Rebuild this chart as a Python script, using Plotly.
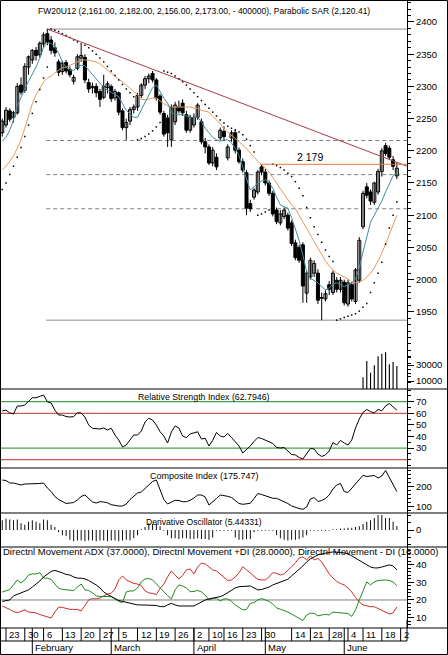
import plotly.graph_objects as go

W, H = 448, 655

# ---------------- data (trading-day index, 0 = 23 Jan 2012) ----------------
days = list(range(-1, 105))
opens = [2228,2240,2262,2252,2259,2302,2294,2330,2341,2356,2349,2366,2382,2372,2360,2338,2323,2337,2326,2308,
         2328,2344,2345,2306,2298,2300,2292,2283,2298,2300,2282,2290,2262,2236,2246,2264,2268,2286,2302,2312,
         2320,2310,2285,2258,2251,2217,2245,2268,2274,2256,2232,2240,2252,2245,2214,2206,2181,2190,2220,2230,
         2189,2220,2228,2201,2183,2166,2118,2128,2136,2175,2167,2150,2134,2108,2088,2098,2100,2088,2057,2050,
         2054,1979,2004,2010,2010,1971,1970,1992,1980,1999,1985,1996,1962,1992,1966,1999,2082,2144,2136,2120,
         2136,2168,2208,2204,2186,2161]
highs = [2250,2268,2266,2262,2305,2314,2336,2348,2358,2361,2370,2384,2389,2378,2368,2342,2340,2341,2331,2318,
         2350,2364,2350,2312,2306,2305,2296,2318,2308,2303,2296,2292,2266,2250,2268,2272,2290,2305,2316,2320,
         2324,2313,2288,2262,2256,2272,2276,2278,2280,2262,2256,2258,2274,2250,2220,2210,2206,2196,2236,2238,
         2210,2232,2234,2205,2188,2170,2124,2142,2170,2179,2172,2154,2138,2112,2108,2112,2104,2092,2062,2054,
         2058,2014,2034,2030,2016,1980,1984,1998,2014,2004,2004,2000,2000,1996,2018,2066,2138,2150,2140,2152,
         2172,2204,2212,2208,2192,2182]
lows = [2222,2236,2245,2244,2256,2287,2290,2318,2335,2340,2345,2360,2364,2350,2346,2316,2318,2320,2314,2303,
        2325,2338,2305,2290,2289,2283,2268,2280,2289,2276,2278,2255,2232,2217,2240,2258,2262,2282,2296,2305,
        2306,2278,2256,2222,2206,2206,2240,2258,2254,2228,2228,2236,2248,2210,2196,2178,2176,2170,2216,2215,
        2185,2214,2196,2180,2166,2100,2105,2124,2132,2162,2146,2130,2098,2086,2084,2094,2076,2052,2030,2026,
        1964,1964,2000,2004,1962,1937,1966,1976,1976,1980,1980,1960,1958,1966,1962,1995,2078,2126,2116,2116,
        2132,2160,2192,2186,2170,2156]
closes = [2246,2263,2249,2259,2300,2291,2331,2346,2356,2348,2367,2380,2369,2356,2352,2322,2336,2324,2318,2314,
          2346,2348,2310,2296,2300,2290,2280,2300,2304,2281,2292,2260,2236,2244,2264,2268,2286,2302,2312,2316,
          2310,2282,2260,2226,2228,2268,2271,2262,2259,2232,2252,2252,2271,2214,2206,2181,2201,2175,2232,2222,
          2206,2228,2201,2183,2170,2111,2110,2139,2167,2167,2150,2134,2102,2090,2102,2108,2080,2056,2034,2030,
          1990,2010,2030,2025,1968,1972,1978,1985,2010,1985,1999,1964,1995,1970,2015,2061,2134,2131,2122,2150,
          2168,2200,2196,2190,2176,2173]
ma_fast = [2215,2221,2232,2248,2270,2284,2296,2308,2319,2330,2344,2361,2367,2367,2361,2352,2338,2330,2325,2325,
           2330,2333,2332,2325,2319,2311,2305,2299,2294,2291,2288,2284,2273,2263,2257,2252,2252,2263,2276,2287,
           2298,2302,2291,2282,2274,2260,2256,2256,2256,2254,2252,2252,2252,2245,2235,2228,2221,2217,2215,2217,
           2217,2212,2204,2193,2175,2156,2139,2144,2150,2153,2155,2150,2142,2128,2116,2113,2111,2096,2077,2061,
           2038,2012,2002,1998,1995,1989,1984,1987,1993,1995,1992,1989,1992,1995,2001,2018,2043,2065,2089,2100,
           2111,2122,2136,2150,2161,2166]
ma_slow = [2170,2176,2184,2192,2204,2217,2235,2254,2273,2287,2298,2307,2313,2316,2321,2325,2329,2330,2333,2336,
           2339,2341,2341,2341,2339,2338,2335,2330,2325,2321,2316,2311,2307,2302,2296,2291,2287,2280,2279,2280,
           2282,2282,2277,2273,2270,2268,2268,2268,2268,2268,2268,2266,2266,2263,2262,2260,2254,2248,2242,2234,
           2229,2225,2220,2215,2209,2203,2196,2190,2184,2179,2173,2167,2159,2150,2141,2133,2125,2116,2110,2100,
           2089,2079,2068,2058,2049,2038,2029,2021,2015,2010,2007,2004,2001,1996,1995,1996,1999,2004,2010,2018,
           2029,2041,2055,2071,2086,2100]
sar = [2140,2150,2163,2176,2190,2205,2222,2240,2258,2276,2295,2313,2330,2389,2387,2385,2382,2379,2376,2372,
       2369,2366,2364,2360,2355,2350,2344,2338,2331,2324,2317,2310,2303,2296,2290,2284,2217,2219,2222,2226,
       2231,2237,2244,2324,2322,2320,2316,2312,2307,2302,2296,2290,2284,2278,2272,2266,2260,2254,2248,2243,
       2238,2235,2232,2229,2225,2218,2208,2198,2100,2102,2105,2108,2179,2177,2174,2170,2165,2160,2152,2142,
       2130,2112,2096,2082,2070,2058,2046,2036,2028,1937,1939,1941,1943,1945,1947,1951,1957,1963,1980,1995,
       2010,2027,2055,2080,2100,2120.41]
vol_days = [95, 96, 97, 98, 99, 100, 101, 102, 103, 104]
volume = [14600, 35000, 20500, 29600, 41000, 44000, 46000, 30900, 33700, 28700]

rsi = [62.0,62.8,60.3,59.4,66.3,66.3,67.2,70.6,73.4,73.4,74.9,75.8,70.0,68.9,62.8,58.5,58.5,57.2,56.8,57.1,
       60.5,60.3,56.8,49.9,47.1,47.1,46.5,47.3,45.6,47.1,41.3,37.0,31.0,32.7,37.0,41.3,41.3,44.7,52.5,55.7,
       54.2,49.9,44.1,40.4,34.4,43.9,49.1,47.3,40.4,39.0,42.2,43.3,44.1,37.8,38.5,31.8,36.6,43.5,40.4,39.6,
       42.6,39.1,35.7,31.8,25.8,28.8,31.8,35.7,39.1,38.3,37.0,35.9,34.0,30.5,30.1,30.5,27.9,24.5,24.1,21.9,
       20.6,24.9,29.7,29.2,24.9,22.8,24.1,27.5,34.8,32.7,36.6,34.4,32.7,37.0,47.3,55.1,60.7,63.3,61.4,60.3,
       63.3,62.2,66.3,68.4,65.9,62.79]
rsi_upper = [70, 60]
rsi_lower = [30, 20]
ci = [233.5,231,218.5,218.5,213.5,208.5,213.5,213.5,213.5,213.5,216,218.5,193.5,176,151,136,126,116,118.5,121,
      133.5,151,158.5,138.5,123.5,118.5,125,123.5,119.5,110,106,103.5,103.5,113.5,136,153.5,168.5,173.5,191,208.5,
      226,233.5,188.5,136,113.5,123.5,132,131,125,125,132,143.5,158.5,158.5,148.5,108.5,123.5,141,158.5,156,
      152,146,131,116,112,113.5,117,141,166,161,153.5,146,142,142,133.5,123.5,116,103.5,96,91,
      87,98.5,138.5,146,126,131,141,158.5,188.5,208.5,216,176,171,193.5,216,238.5,257,251,253.5,256,
      243.5,253.5,281,243.5,213.5,175.747]
dosc = [13,15,14,13,14,9,7,11,13,11,9,14,13,7,4,-3,-7,-8,-13,-15,
        -14,-14,-15,-14,-14,-15,-14,-14,-15,-14,-14,-15,-14,-13,-14,-11,-7,1,4,9,
        8,9,5,-1,-7,-11,-11,-12,-11,-11,-12,-12,-11,-12,-12,-13,-10,-1,-1,-1,
        -1,-1,-10,-13,-13,-12,-12,-3,-1,-1,-1,-1,-1,-7,-11,-13,-14,-13,-13,-12,
        -10,-7,-1,-1,-1,-1,-1,-1,1,1,2,2,3,3,4,5,8,11,13,16,
        20,20,16,16,11,5.44331]
adx = [19.2,19.4,20,22.3,23.1,24,24.8,25.7,27.3,29,30.7,33,34.4,36.1,36.7,36.1,35.3,34.4,34.1,33,
       32.3,32.3,31.9,31,29.9,28.5,26.8,24.5,23.1,21.9,20.8,19.7,19.2,18.6,18,17.5,17.2,17.2,17.2,17.2,
       17.2,16.9,16.3,16.2,17.2,18.1,17.2,16.6,16.6,16.6,16.6,16.6,17.7,18.9,20,20.6,21,21.4,21.9,22.8,
       24.2,25.7,26.8,27.5,27.6,27.8,27.9,26.8,25.7,25.9,26.5,27.3,28.5,29.3,30.2,31,31.7,33.6,35.3,37,
       39.2,41.5,43.2,44.3,45.4,46,46.6,46.8,47.1,47.1,46.8,46.6,46,44.9,43.7,42.6,41.2,39.8,38.6,38.1,
       38.1,38.6,39.2,39.8,39.2,37.0]
pdi = [24.5,25.4,25.9,28.5,31.3,29.6,31.3,34.1,34.7,34.7,35.4,32.4,32.3,31.6,29,26.6,26,25.7,25.3,25.3,
       27.3,29,25.7,25.4,24,22.3,22,21.9,21.9,21.9,20.6,19.2,18.6,24.5,25.1,25.1,26.8,30.2,31.9,32.1,
       31.3,29,26.6,24.5,22.5,20.6,25.7,28.5,27.9,26.8,24.7,24.8,25.4,24.5,22.8,20,20.8,21.1,19.4,20.6,
       20.6,19.2,17.2,15.8,14.4,14.6,18.1,18.6,20,20.8,20,19.2,17.7,15.5,14.8,14.1,13.2,12.1,10.7,9.5,
       8.4,11.5,12.5,12.5,11,11.5,11.9,11.5,13.2,12.9,12.7,12.7,12.4,10.7,14.4,20,25.7,30.2,28.5,30.2,
       31,31.3,31.3,31,30.2,28.0]
mdi = [16.6,15.8,14.7,13.4,12.9,13.5,14.4,13.2,12.8,12.7,11.8,11.2,10.4,9.8,13.2,16,15.8,15.2,14.7,14.7,
       14.7,13.8,17.2,20,20.8,20.6,21.1,22.5,23.4,23.8,26.2,31.3,33.6,31.3,30.2,29.3,29,28.2,25.1,24,
       23.7,23.1,26.5,29,33,36.4,34.1,31.9,33.8,37,37.5,34.7,38.6,40.9,40.3,38.8,37,36.4,34.7,32.7,
       31,31.3,33,35.3,38.8,37,35.3,33.2,31.6,31.3,31.3,33,35.5,35,34.1,34.7,37,38.8,40.9,43.7,
       44.3,42.6,44.9,42.6,43.4,41.5,38.1,34.7,32.4,30.5,29.3,28.5,26.8,24.5,21.4,18.9,17.2,16.6,16.2,16.2,
       15.2,14.4,13.5,12.1,12.7,16.0]
dmi_ref = 20

swing_high = 2389
swing_low = 1937
swing_start = 11
fib_levels = [2216, 2163, 2110]
trend_x = [11, 106.7]
trend_y = [2389, 2176]
level_value = 2179
level_start = 67.6
level_label = "2 179"

week_ticks = [0, 5, 10, 15, 20, 25, 30, 35, 40, 45, 50, 54, 58, 63, 68, 76, 81, 86, 91, 95, 100, 105]
week_labels = ["23", "30", "6", "13", "20", "27", "5", "12", "19", "26", "2", "10", "16", "23", "30",
               "14", "21", "28", "4", "11", "18", "2"]
month_ticks = [7, 28, 50, 69, 90]
month_labels = ["February", "March", "April", "May", "June"]

vol_tick_vals = [10000, 30000]
vol_tick_text = ["10000", "30000"]

main_title = "FW20U12 (2,161.00, 2,182.00, 2,156.00, 2,173.00, - 400000), Parabolic SAR (2,120.41)"
rsi_title = "Relative Strength Index (62.7946)"
ci_title = "Composite Index (175.747)"
do_title = "Derivative Oscillator (5.44331)"
dmi_title = ("Directnl Movement ADX (37.0000), Directnl Movement +DI (28.0000), "
             "Directnl Movement - DI (16.0000)")

# ---------------- helpers ----------------
FONT = "Liberation Sans, Arial"
XR = [-1.33, 106.7]
PLOT_R = 407


def yp(py):
    return 1 - py / H


def xp(px):
    return px / W


fig = go.Figure()

# candle wicks
wx, wy = [], []
for d, lo, hi in zip(days, lows, highs):
    wx += [d, d, None]
    wy += [lo, hi, None]
fig.add_trace(go.Scatter(x=wx, y=wy, mode="lines", line=dict(color="black", width=1),
                         hoverinfo="skip", yaxis="y"))
# candle bodies
body_base = [min(o, c) for o, c in zip(opens, closes)]
body_h = [max(abs(c - o), 1.2) for o, c in zip(opens, closes)]
body_col = ["white" if c >= o else "black" for o, c in zip(opens, closes)]
fig.add_trace(go.Bar(x=days, y=body_h, base=body_base, width=0.8,
                     marker=dict(color=body_col, line=dict(color="black", width=1)),
                     yaxis="y"))
# moving averages
fig.add_trace(go.Scatter(x=days, y=ma_slow, mode="lines", line=dict(color="#E39A60", width=1), yaxis="y"))
fig.add_trace(go.Scatter(x=days, y=ma_fast, mode="lines", line=dict(color="#3F8E9C", width=1), yaxis="y"))
# parabolic SAR
fig.add_trace(go.Scatter(x=days, y=sar, mode="markers",
                         marker=dict(color="black", size=1.5, symbol="square"), yaxis="y"))
# volume
fig.add_trace(go.Bar(x=vol_days, y=volume, width=0.3, marker=dict(color="black", line=dict(width=0)),
                     yaxis="y2"))
# RSI
fig.add_trace(go.Scatter(x=days, y=rsi, mode="lines", line=dict(color="black", width=1), yaxis="y3"))
# composite index
fig.add_trace(go.Scatter(x=days, y=ci, mode="lines", line=dict(color="black", width=1), yaxis="y4"))
# derivative oscillator
fig.add_trace(go.Bar(x=days, y=dosc, width=0.25, marker=dict(color="black", line=dict(width=0)),
                     yaxis="y5"))
# DMI
fig.add_trace(go.Scatter(x=days, y=mdi, mode="lines", line=dict(color="#D42A2A", width=1), yaxis="y6"))
fig.add_trace(go.Scatter(x=days, y=pdi, mode="lines", line=dict(color="#1E8A1E", width=1), yaxis="y6"))
fig.add_trace(go.Scatter(x=days, y=adx, mode="lines", line=dict(color="black", width=1), yaxis="y6"))

# ---------------- shapes ----------------
shapes = []
BL = dict(color="black", width=1)


def pline(x0, y0, x1, y1, line=BL, layer="above"):
    shapes.append(dict(type="line", xref="paper", yref="paper", x0=xp(x0), y0=yp(y0),
                       x1=xp(x1), y1=yp(y1), line=line, layer=layer))


for lv in [swing_high, swing_low]:
    shapes.append(dict(type="line", xref="x", yref="y", x0=swing_start - 0.3, x1=XR[1], y0=lv, y1=lv,
                       line=dict(color="#8C8C8C", width=1), layer="below"))
for lv in fib_levels:
    shapes.append(dict(type="line", xref="x", yref="y", x0=swing_start - 0.3, x1=XR[1], y0=lv, y1=lv,
                       line=dict(color="#808080", width=1, dash="4px,3px"), layer="below"))
shapes.append(dict(type="line", xref="x", yref="y", x0=trend_x[0], x1=trend_x[1], y0=trend_y[0],
                   y1=trend_y[1], line=dict(color="#A83A4A", width=1)))
shapes.append(dict(type="line", xref="x", yref="y", x0=level_start, x1=XR[1], y0=level_value,
                   y1=level_value, line=dict(color="#E07A3A", width=1)))
for lv, col in zip(rsi_upper + rsi_lower, ["#1E8A1E", "#C03030", "#1E8A1E", "#C03030"]):
    shapes.append(dict(type="line", xref="x", yref="y3", x0=XR[0], x1=XR[1], y0=lv, y1=lv,
                       line=dict(color=col, width=1), layer="below"))
shapes.append(dict(type="line", xref="x", yref="y6", x0=XR[0], x1=XR[1], y0=dmi_ref, y1=dmi_ref,
                   line=dict(color="#808080", width=1), layer="below"))

for y in [389, 468, 513, 547, 628]:
    pline(0, y, W, y)
pline(0, 641, PLOT_R, 641)
pline(PLOT_R, 620, PLOT_R, 641)
shapes.append(dict(type="rect", xref="paper", yref="paper", x0=xp(0.5), x1=xp(W - 0.5),
                   y0=yp(H - 0.5), y1=yp(0.5), line=BL))
for t in week_ticks + month_ticks:
    shapes.append(dict(type="line", xref="x", yref="paper", x0=t, x1=t, y0=yp(641), y1=yp(628), line=BL))
for t in month_ticks:
    shapes.append(dict(type="line", xref="x", yref="paper", x0=t, x1=t, y0=yp(654), y1=yp(641), line=BL))

# ---------------- annotations ----------------
ann = []


def txt(text, x, y, xanchor="center", size=9, xref="paper", **kw):
    ann.append(dict(text=text, x=x, y=y, xref=xref, yref="paper", xanchor=xanchor, yanchor="middle",
                    showarrow=False, font=dict(family=FONT, size=size, color="black"), **kw))


txt(main_title, xp(204), yp(11), size=8.5)
txt(rsi_title, xp(204), yp(397.5), size=8.8)
txt(ci_title, xp(204), yp(476), size=9)
txt(do_title, xp(204), yp(521.5), size=8.6)
txt(dmi_title, xp(1), yp(551), xanchor="left", size=9.5)
for t, lab in zip(week_ticks, week_labels):
    txt(lab, t, yp(634.5), xanchor="left", xref="x", xshift=1, size=9.5)
for t, lab in zip(month_ticks, month_labels):
    txt(lab, t, yp(647.5), xanchor="left", xref="x", xshift=1, size=9.5)
ann.append(dict(text=level_label, x=81, y=level_value, xref="x", yref="y", yshift=7, showarrow=False,
                font=dict(family=FONT, size=10.5, color="black")))


# ---------------- axes ----------------
def yax(domain_px, rng, tickvals, minor_vals, ticktext=None, overlay=None):
    d = dict(domain=[yp(domain_px[1]), yp(domain_px[0])], range=rng, side="right", anchor="x",
             showgrid=False, zeroline=False, showline=True, linecolor="black", linewidth=1,
             ticks="outside", ticklen=6, tickcolor="black", tickwidth=1,
             tickmode="array", tickvals=tickvals,
             tickfont=dict(family=FONT, size=9.5, color="black"), fixedrange=True)
    if ticktext is not None:
        d["ticktext"] = ticktext
    if minor_vals:
        d["minor"] = dict(tickmode="array", tickvals=minor_vals, ticks="outside", ticklen=3,
                          tickcolor="black", tickwidth=1, showgrid=False)
    if overlay:
        d["overlaying"] = overlay
    return d


price_ticks = list(range(1950, 2401, 50))
fig.update_layout(
    width=W, height=H, margin=dict(l=0, r=0, t=0, b=0),
    paper_bgcolor="white", plot_bgcolor="white", showlegend=False, barmode="overlay",
    xaxis=dict(domain=[xp(1), xp(PLOT_R)], range=XR, showgrid=False, zeroline=False,
               showline=False, showticklabels=False, ticks="", anchor="y6", fixedrange=True),
    yaxis=yax([1, 389], [1830.1, 2432.6], price_ticks, list(range(1840, 2431, 10))),
    yaxis2=yax([1, 389], [0, 485000], vol_tick_vals, [20000, 40000], ticktext=vol_tick_text, overlay="y"),
    yaxis3=yax([389, 468], [12.85, 80.95], [30, 40, 50, 60, 70], list(range(15, 81, 5))),
    yaxis4=yax([468, 513], [68.5, 293.5], [100, 200], list(range(80, 291, 20))),
    yaxis5=yax([513, 547], [-22.7, 22.7], [0], [-20, -10, 10, 20]),
    yaxis6=yax([547, 628], [4.18, 49.9], [10, 20, 30, 40], list(range(6, 50, 2))),
    shapes=shapes, annotations=ann,
)

fig.write_html("out.html", config={"displayModeBar": False, "staticPlot": True},
               post_script="document.body.style.margin='0';document.body.style.overflow='hidden';")
